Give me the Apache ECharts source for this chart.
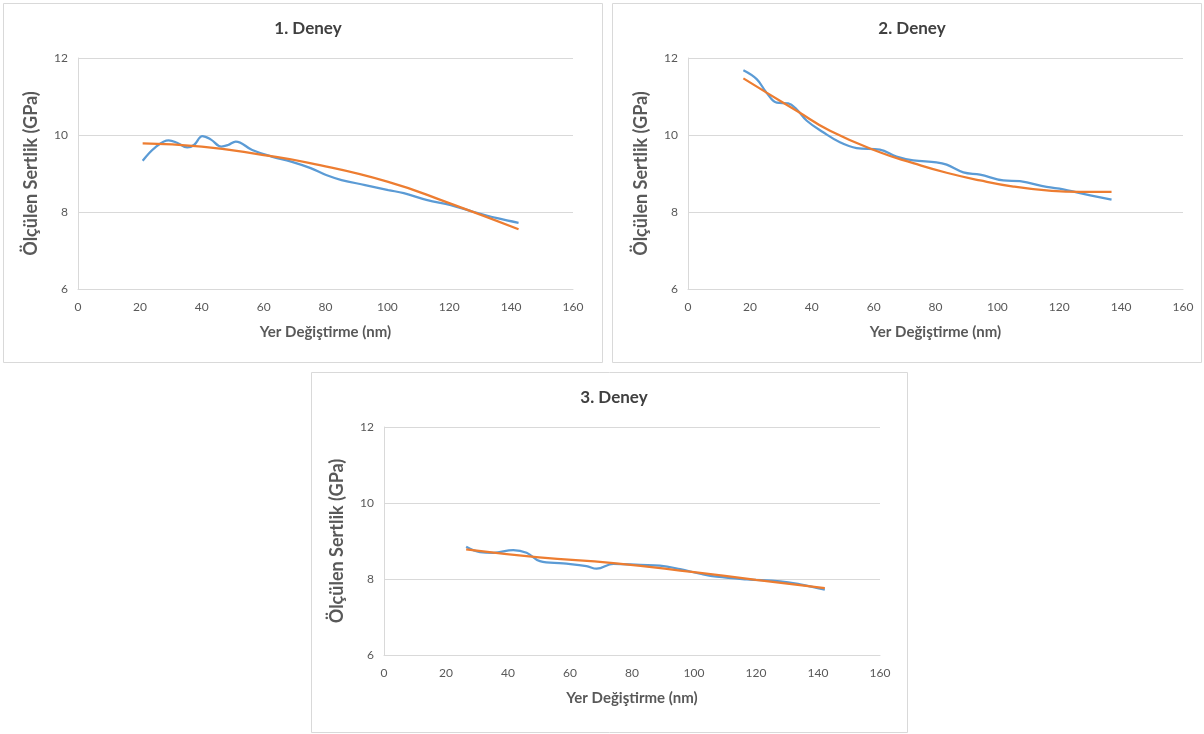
<!DOCTYPE html>
<html>
<head>
<meta charset="utf-8">
<script src="https://cdn.jsdelivr.net/npm/echarts@6/dist/echarts.min.js"></script>
<style>
html,body{margin:0;padding:0;background:#fff;}
#c{width:1204px;height:734px;}
</style>
</head>
<body>
<div id="c"></div>
<script>
// ---- Data ----
const chartTitles = ['1. Deney', '2. Deney', '3. Deney'];
const xAxisTitle = 'Yer Değiştirme (nm)';
const yAxisTitle = 'Ölçülen Sertlik (GPa)';
const xTicks = [0, 20, 40, 60, 80, 100, 120, 140, 160];
const yTicks = [6, 8, 10, 12];

// Experiment 1 — measured
const exp1X = [20.9, 25, 29.3, 32, 35.3, 37.5, 40.2, 43, 46.3, 48.5, 51, 56.3, 62.6, 68.9, 75.2, 80.2, 85.2, 92.8, 100.3, 105.3, 112.9, 120.5, 128, 135.5, 142.4];
const exp1Y = [9.33, 9.68, 9.86, 9.80, 9.68, 9.74, 9.97, 9.88, 9.70, 9.74, 9.83, 9.61, 9.44, 9.31, 9.14, 8.96, 8.83, 8.70, 8.57, 8.49, 8.31, 8.18, 8.00, 7.84, 7.72];
// Experiment 1 — trend
const exp1TX = [20.9, 40, 60, 75, 100, 120, 142.4];
const exp1TY = [9.78, 9.70, 9.48, 9.27, 8.79, 8.23, 7.55];

// Experiment 2 — measured
const exp2X = [17.9, 22.2, 25.4, 28.7, 32.4, 35.1, 38.4, 43.7, 49.1, 54.5, 62.0, 67.4, 72.8, 80.3, 83.6, 89.0, 94.4, 101.9, 107.3, 115.9, 121.3, 126.7, 136.9];
const exp2Y = [11.68, 11.45, 11.10, 10.84, 10.82, 10.67, 10.37, 10.07, 9.81, 9.66, 9.62, 9.44, 9.34, 9.29, 9.23, 9.03, 8.97, 8.82, 8.80, 8.65, 8.59, 8.49, 8.32];
// Experiment 2 — trend
const exp2TX = [17.9, 25.4, 35.1, 45.9, 62.0, 72.8, 83.6, 94.4, 105.2, 115.9, 126.7, 136.9];
const exp2TY = [11.47, 11.10, 10.63, 10.11, 9.55, 9.27, 9.02, 8.82, 8.66, 8.56, 8.52, 8.52];

// Experiment 3 — measured
const exp3X = [26.5, 31, 35.3, 41.7, 46, 50.3, 57.8, 65.3, 68.6, 74, 82.6, 89, 95.5, 101.9, 107.3, 117, 127.8, 134.2, 142.2];
const exp3Y = [8.85, 8.71, 8.69, 8.76, 8.69, 8.47, 8.41, 8.34, 8.27, 8.40, 8.37, 8.35, 8.26, 8.14, 8.06, 7.99, 7.94, 7.86, 7.72];
// Experiment 3 — trend
const exp3TX = [26.5, 50, 74, 100, 120, 142.2];
const exp3TY = [8.78, 8.57, 8.42, 8.18, 7.98, 7.76];

// ---- Build ----
const pairs = (xs, ys) => xs.map((x, i) => [x, ys[i]]);
const measured = [pairs(exp1X, exp1Y), pairs(exp2X, exp2Y), pairs(exp3X, exp3Y)];
const trends = [pairs(exp1TX, exp1TY), pairs(exp2TX, exp2TY), pairs(exp3TX, exp3TY)];

const FONT = 'Lato, "Open Sans", sans-serif';
const BLUE = '#5B9BD5', ORANGE = '#ED7D31';

const grids = [
  {left: 78, top: 58, width: 495, height: 231},
  {left: 688, top: 58, width: 495, height: 231},
  {left: 384, top: 427, width: 496, height: 228}
];
const titlePos = [{x: 303, y: 15}, {x: 907, y: 15}, {x: 609, y: 384}];
const panels = [
  {x: 3.5, y: 3.5, w: 599, h: 359},
  {x: 612.5, y: 3.5, w: 589, h: 359},
  {x: 311.5, y: 372.5, w: 596, h: 360}
];

const option = {
  animation: false,
  backgroundColor: '#ffffff',
  title: chartTitles.map((t, i) => ({
    text: t, left: titlePos[i].x, top: titlePos[i].y, textAlign: 'center',
    textStyle: {fontFamily: FONT, fontSize: 17, fontWeight: 'bold', color: '#404040'}
  })),
  graphic: panels.map(p => ({
    type: 'rect', shape: {x: p.x, y: p.y, width: p.w, height: p.h},
    style: {fill: 'none', stroke: '#d9d9d9', lineWidth: 1}, z: -1
  })),
  grid: grids.map(g => Object.assign({containLabel: false}, g)),
  xAxis: grids.map((g, i) => ({
    type: 'value', gridIndex: i, min: xTicks[0], max: xTicks[xTicks.length - 1], interval: 20,
    name: xAxisTitle, nameLocation: 'middle', nameGap: 36,
    nameTextStyle: {fontFamily: FONT, fontSize: 15, fontWeight: 'bold', color: '#595959'},
    axisLine: {show: true, onZero: false, lineStyle: {color: '#d9d9d9', width: 1}},
    axisTick: {show: false},
    axisLabel: {fontFamily: FONT, fontSize: 12, color: '#595959', margin: 12},
    splitLine: {show: false}
  })),
  yAxis: grids.map((g, i) => ({
    type: 'value', gridIndex: i, min: yTicks[0], max: yTicks[yTicks.length - 1], interval: 2,
    name: yAxisTitle, nameLocation: 'middle', nameGap: 38,
    nameTextStyle: {fontFamily: FONT, fontSize: 18, fontWeight: 'bold', color: '#595959'},
    axisLine: {show: true, lineStyle: {color: '#d9d9d9', width: 1}},
    axisTick: {show: false},
    axisLabel: {fontFamily: FONT, fontSize: 12, color: '#595959', margin: 10},
    splitLine: {show: true, lineStyle: {color: '#d9d9d9', width: 1}}
  })),
  series: [].concat(
    measured.map((d, i) => ({
      type: 'line', xAxisIndex: i, yAxisIndex: i, data: d, smooth: 0.4,
      showSymbol: false, symbol: 'none',
      lineStyle: {color: BLUE, width: 2.25}, z: 2
    })),
    trends.map((d, i) => ({
      type: 'line', xAxisIndex: i, yAxisIndex: i, data: d, smooth: 0.5,
      showSymbol: false, symbol: 'none',
      lineStyle: {color: ORANGE, width: 2.25}, z: 3
    }))
  )
};

const chart = echarts.init(document.getElementById('c'), null, {renderer: 'canvas'});
chart.setOption(option);
</script>
</body>
</html>
